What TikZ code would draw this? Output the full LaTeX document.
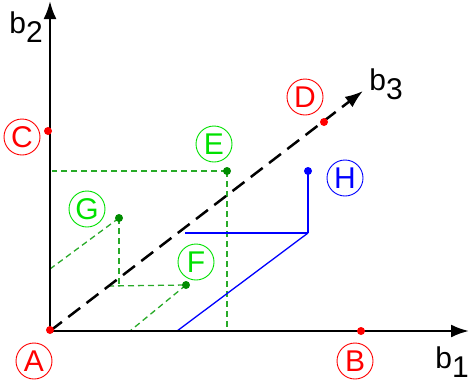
\documentclass[tikz,border=0pt]{standalone}
\usepackage{fontspec}
\setmainfont{Liberation Sans}
\usetikzlibrary{arrows.meta}
\definecolor{lred}{RGB}{255,0,0}
\definecolor{lgreen}{RGB}{0,225,0}
\definecolor{dgreen}{RGB}{0,140,0}
\definecolor{mgreen}{RGB}{40,170,40}
\definecolor{lblue}{RGB}{0,0,255}
\begin{document}
\begin{tikzpicture}[x=1pt,y=-1pt,
  axis/.style={line width=2.5pt,-{Latex[length=18pt,width=13pt]}},
  lbl/.style={circle,draw,line width=0.9pt,minimum size=36pt,inner sep=0pt,font=\fontsize{30}{32}\selectfont},
  dot/.style={circle,fill,inner sep=0pt,minimum size=8pt},
  proj/.style={mgreen,dash pattern=on 6pt off 4pt,line width=1.3pt},
  bproj/.style={lblue,line width=1.3pt},
  axlab/.style={font=\fontsize{30}{32}\selectfont,inner sep=0pt}]
\useasboundingbox (0,0) rectangle (471,389);
% axes points
\coordinate (O) at (50,331);
\coordinate (X) at (469,331);
\coordinate (Y) at (50,1);
\coordinate (Z) at (363,91);
% data points
\coordinate (A) at (50,330);
\coordinate (B) at (361,331);
\coordinate (C) at (48,131);
\coordinate (D) at (324,122);
\coordinate (E) at (227,171);
\coordinate (F) at (186,285);
\coordinate (G) at (119,218);
\coordinate (H) at (308,171);
% projection helpers
\coordinate (Ey) at (52,171);
\coordinate (Ex) at (227,331);
\coordinate (Gd) at (119,286);
\coordinate (Fz) at (108,286);
\coordinate (Gy) at (50,269);
\coordinate (Fx) at (130,331);
\coordinate (Hd) at (308,233);
\coordinate (Hz) at (185,233);
\coordinate (Hx) at (177,331);
% projections
\draw[proj] (E) -- (Ey);
\draw[proj] (E) -- (Ex);
\draw[proj] (G) -- (Gd);
\draw[proj] (Fz) -- (F);
\draw[proj] (G) -- (Gy);
\draw[proj] (F) -- (Fx);
\draw[bproj] (H) -- (Hd);
\draw[bproj] (Hd) -- (Hz);
\draw[bproj] (Hd) -- (Hx);
% axes
\draw[axis] (O) -- (X);
\draw[axis] (O) -- (Y);
\draw[axis,dash pattern=on 15pt off 8pt] (O) -- (Z);
% axis labels
\node[axlab] (lb1) at (452,362) {b\raisebox{-9pt}{1}};
\node[axlab] (lb2) at (26,27) {b\raisebox{-9pt}{2}};
\node[axlab] (lb3) at (386,84) {b\raisebox{-9pt}{3}};
% dots
\node[dot,lred] at (A) {};
\node[dot,lred] at (B) {};
\node[dot,lred] at (C) {};
\node[dot,lred] at (D) {};
\node[dot,dgreen] at (E) {};
\node[dot,dgreen] at (F) {};
\node[dot,dgreen] at (G) {};
\node[dot,lblue] at (H) {};
% labels
\node[lbl,lred] (lA) at (34,361) {A};
\node[lbl,lred] (lB) at (355,361) {B};
\node[lbl,lred] (lC) at (22,137) {C};
\node[lbl,lred] (lD) at (305,97) {D};
\node[lbl,lgreen] (lE) at (214,144) {E};
\node[lbl,lgreen] (lF) at (196,262) {F};
\node[lbl,lgreen] (lG) at (87,209) {G};
\node[lbl,lblue] (lH) at (345,178) {H};
\end{tikzpicture}
\end{document}
